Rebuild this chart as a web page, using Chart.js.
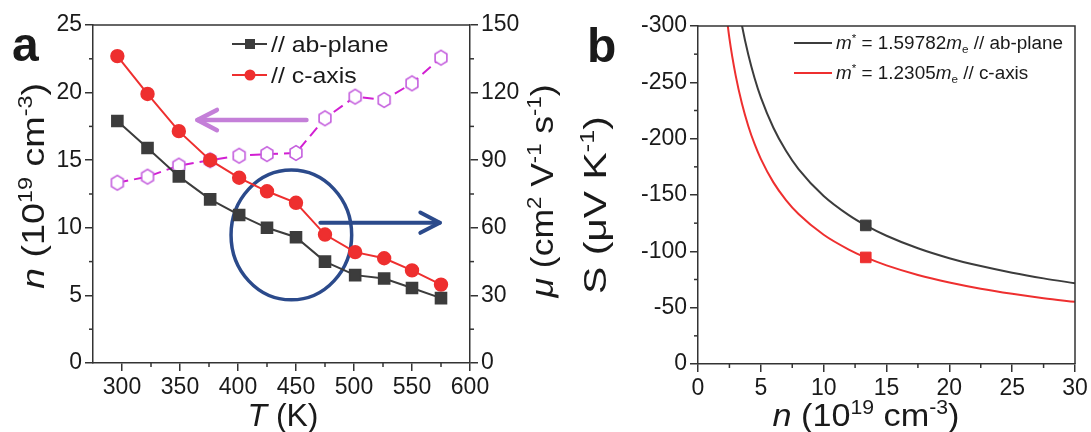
<!DOCTYPE html>
<html><head><meta charset="utf-8">
<script src="https://cdn.jsdelivr.net/npm/chart.js@4.4.1/dist/chart.umd.min.js"></script>
<style>
html,body{margin:0;padding:0;background:#fff;}
#wrap{position:relative;width:1091px;height:432px;overflow:hidden;background:#fff;}
canvas{position:absolute;top:0;}
</style></head><body>
<div id="wrap">
<canvas id="ca" width="575" height="432" style="left:0"></canvas>
<canvas id="cb" width="516" height="432" style="left:575px"></canvas>
</div>
<script>
// ---------- Panel a data ----------
const temperatures = [296, 322, 349, 376, 401, 425, 450, 475, 501, 526, 550, 575];
const nAbPlane = [17.9, 15.9, 13.8, 12.1, 10.95, 10.0, 9.3, 7.5, 6.5, 6.25, 5.55, 4.8];
const nCAxis = [22.7, 19.9, 17.15, 15.0, 13.7, 12.7, 11.85, 9.5, 8.2, 7.75, 6.85, 5.8];
const mobility = [80.0, 82.7, 87.6, 90.0, 92.0, 92.7, 93.2, 108.6, 118.2, 116.7, 124.1, 135.5];
const tTicks = [300, 350, 400, 450, 500, 550, 600];
const tMinor = [325, 375, 425, 475, 525, 575];
const nTicks = [0, 5, 10, 15, 20, 25];
const nMinor = [2.5, 7.5, 12.5, 17.5, 22.5];
const muTicks = [0, 30, 60, 90, 120, 150];
const muMinor = [15, 45, 75, 105, 135];

// ---------- Panel b data ----------
const nGridAb = [3, 3.5, 4, 4.5, 5, 6, 7, 8, 10, 12, 13.35, 15, 17.5, 20, 22.5, 25, 27.5, 30];
const sAbPlane = [-332.8, -300.3, -274.7, -253.9, -236.7, -209.7, -189.2, -173.0, -149.1, -132.1, -123.0, -113.8, -102.7, -93.9, -86.9, -81.0, -76.0, -71.7];
const nGridC = [2, 2.5, 3, 3.5, 4, 4.5, 5, 6, 7, 8, 10, 12, 13.35, 15, 17.5, 20, 22.5, 25, 27.5, 30];
const sCAxis = [-335.4, -289.0, -255.9, -230.9, -211.3, -195.3, -182.1, -161.2, -145.5, -133.1, -114.7, -101.6, -94.6, -87.5, -79.0, -72.3, -66.8, -62.3, -58.4, -55.2];
const measuredN = [13.35];
const measuredSAb = [-123];
const measuredSC = [-94.6];
const nbTicks = [0, 5, 10, 15, 20, 25, 30];
const nbMinor = [2.5, 7.5, 12.5, 17.5, 22.5, 27.5];
const sTicks = [-300, -250, -200, -150, -100, -50, 0];
const sMinor = [-275, -225, -175, -125, -75, -25];

// ---------- styles ----------
const FAM = '"Liberation Sans", Arial, sans-serif';
const AX = '#333';
const TXT = '#1a1a1a';
const BLACK = '#3c3c3c';
const RED = '#ee2f2f';
const MAG = '#d21fd2';
const HEX = '#c560de';
const BLUE = '#2b4a8b';
const PURPLE = '#c47fd8';
const tickFont = {family: FAM, size: 23};

function hexCanvas(size, stroke, lw) {
  const c = document.createElement('canvas');
  c.width = size; c.height = size;
  const g = c.getContext('2d');
  const r = size / 2 - lw;
  g.beginPath();
  for (let i = 0; i < 6; i++) {
    const a = Math.PI / 2 + i * Math.PI / 3;
    const px = size / 2 + r * Math.cos(a) * 0.92, py = size / 2 + r * Math.sin(a);
    if (i) g.lineTo(px, py); else g.moveTo(px, py);
  }
  g.closePath();
  g.fillStyle = '#fff'; g.fill();
  g.strokeStyle = stroke; g.lineWidth = lw; g.stroke();
  return c;
}
const hexImg = hexCanvas(18, HEX, 1.6);

function fontFor(p, size) {
  const s = (p.sup || p.sub) ? size * 0.62 : size;
  return (p.it ? 'italic ' : '') + (p.b ? 'bold ' : '') + s + 'px ' + FAM;
}
function richWidth(ctx, parts, size) {
  let w = 0;
  for (const p of parts) { ctx.font = fontFor(p, size); w += ctx.measureText(p.t).width; }
  return w;
}
function drawRich(ctx, parts, o) {
  ctx.save();
  ctx.translate(o.x, o.y);
  if (o.rot) ctx.rotate(o.rot);
  const w = richWidth(ctx, parts, o.size);
  const sx = o.target ? o.target / w : (o.sx || 1);
  ctx.scale(sx, 1);
  let x = o.align === 'left' ? 0 : -w / 2;
  ctx.textBaseline = 'alphabetic';
  ctx.fillStyle = o.color || TXT;
  for (const p of parts) {
    ctx.font = fontFor(p, o.size);
    let dy = 0;
    if (p.sup) dy = -0.38 * o.size;
    if (p.sub) dy = 0.2 * o.size;
    ctx.fillText(p.t, x, dy);
    x += ctx.measureText(p.t).width;
  }
  ctx.restore();
}
function arrow(ctx, x1, y1, x2, y2, color, lw, head) {
  ctx.save();
  ctx.strokeStyle = color; ctx.lineWidth = lw; ctx.lineCap = 'round'; ctx.lineJoin = 'round';
  ctx.beginPath(); ctx.moveTo(x1, y1); ctx.lineTo(x2, y2); ctx.stroke();
  const a = Math.atan2(y2 - y1, x2 - x1);
  ctx.beginPath();
  ctx.moveTo(x2 - head * Math.cos(a - 0.48), y2 - head * Math.sin(a - 0.48));
  ctx.lineTo(x2, y2);
  ctx.lineTo(x2 - head * Math.cos(a + 0.48), y2 - head * Math.sin(a + 0.48));
  ctx.stroke();
  ctx.restore();
}
function minorTicks(chart, list) {
  const ctx = chart.ctx;
  ctx.save(); ctx.strokeStyle = AX; ctx.lineWidth = 1.5;
  for (const m of list) {
    const s = chart.scales[m.id];
    for (const v of m.values) {
      const p = s.getPixelForValue(v);
      ctx.beginPath();
      if (m.side === 'bottom') { ctx.moveTo(p, s.top); ctx.lineTo(p, s.top + 4); }
      else if (m.side === 'left') { ctx.moveTo(s.right, p); ctx.lineTo(s.right - 4, p); }
      else { ctx.moveTo(s.left, p); ctx.lineTo(s.left + 4, p); }
      ctx.stroke();
    }
  }
  ctx.restore();
}
function axisCfg(ticksArr, extra) {
  return Object.assign({
    type: 'linear',
    afterBuildTicks: s => { s.ticks = ticksArr.map(v => ({value: v})); },
    ticks: {font: tickFont, color: TXT, padding: 3, maxRotation: 0, autoSkip: false},
    grid: {drawOnChartArea: false, tickLength: 8, color: AX, lineWidth: 1.5},
    border: {color: AX, width: 1.5}
  }, extra);
}

// ---------- Panel a ----------
const annotA = {
  purple: {t1: 459, t2: 365, n: 17.97},
  blue: {t1: 471, t2: 574, n: 10.38},
  ellipse: {t: 446, n: 9.47, rt: 52, rn: 4.8}
};
const panelAPlugin = {
  id: 'panelA',
  beforeDatasetsDraw(chart) {
    const ctx = chart.ctx, x = chart.scales.x, y = chart.scales.y;
    const e = annotA.ellipse;
    const cx = x.getPixelForValue(e.t), cy = y.getPixelForValue(e.n);
    const rx = Math.abs(x.getPixelForValue(e.t + e.rt) - cx), ry = Math.abs(y.getPixelForValue(e.n + e.rn) - cy);
    ctx.save();
    ctx.strokeStyle = BLUE; ctx.lineWidth = 3.5;
    ctx.beginPath(); ctx.ellipse(cx, cy, rx, ry, 0, 0, Math.PI * 2); ctx.stroke();
    ctx.restore();
    const p = annotA.purple, b = annotA.blue;
    arrow(ctx, x.getPixelForValue(p.t1), y.getPixelForValue(p.n), x.getPixelForValue(p.t2), y.getPixelForValue(p.n), PURPLE, 4.5, 22);
    arrow(ctx, x.getPixelForValue(b.t1), y.getPixelForValue(b.n), x.getPixelForValue(b.t2), y.getPixelForValue(b.n), BLUE, 4, 22);
  },
  afterDraw(chart) {
    const ctx = chart.ctx, ca = chart.chartArea;
    ctx.save();
    ctx.strokeStyle = AX; ctx.lineWidth = 1.5;
    ctx.beginPath(); ctx.moveTo(ca.left, ca.top); ctx.lineTo(ca.right, ca.top); ctx.stroke();
    ctx.restore();
    minorTicks(chart, [
      {id: 'x', side: 'bottom', values: tMinor},
      {id: 'y', side: 'left', values: nMinor},
      {id: 'y1', side: 'right', values: muMinor}
    ]);
    // legend
    const ds = chart.data.datasets;
    const rows = [{d: ds[0], y: 44, style: 'rect'}, {d: ds[1], y: 75, style: 'circle'}];
    for (const r of rows) {
      ctx.save();
      ctx.strokeStyle = r.d.borderColor; ctx.lineWidth = 2;
      ctx.beginPath(); ctx.moveTo(232, r.y); ctx.lineTo(267, r.y); ctx.stroke();
      ctx.fillStyle = r.d.pointBackgroundColor;
      if (r.style === 'rect') ctx.fillRect(245, r.y - 5, 10, 10);
      else { ctx.beginPath(); ctx.arc(250, r.y, 5.5, 0, Math.PI * 2); ctx.fill(); }
      ctx.restore();
      drawRich(ctx, [{t: r.d.label}], {x: 271, y: r.y + 8, size: 22, align: 'left', sx: 1.13});
    }
    // titles
    drawRich(ctx, [{t: 'n', it: true}, {t: ' (10'}, {t: '19', sup: true}, {t: ' cm'}, {t: '-3', sup: true}, {t: ')'}],
      {x: 44, y: 186, rot: -Math.PI / 2, size: 32, target: 206});
    drawRich(ctx, [{t: 'μ', it: true}, {t: ' (cm'}, {t: '2', sup: true}, {t: ' V'}, {t: '-1', sup: true}, {t: ' s'}, {t: '-1', sup: true}, {t: ')'}],
      {x: 553, y: 191, rot: -Math.PI / 2, size: 32, target: 213});
    drawRich(ctx, [{t: 'T', it: true}, {t: ' (K)'}], {x: 283, y: 426, size: 32, target: 71});
    drawRich(ctx, [{t: 'a', b: true}], {x: 12, y: 61, size: 48, align: 'left'});
  }
};

new Chart(document.getElementById('ca'), {
  type: 'line',
  data: {
    datasets: [
      {label: '// ab-plane', data: temperatures.map((t, i) => ({x: t, y: nAbPlane[i]})), yAxisID: 'y',
       borderColor: BLACK, backgroundColor: BLACK, pointBackgroundColor: BLACK, pointBorderColor: BLACK,
       borderWidth: 2, pointStyle: 'rect', pointRadius: 7.5, tension: 0},
      {label: '// c-axis', data: temperatures.map((t, i) => ({x: t, y: nCAxis[i]})), yAxisID: 'y',
       borderColor: RED, backgroundColor: RED, pointBackgroundColor: RED, pointBorderColor: RED,
       borderWidth: 2, pointStyle: 'circle', pointRadius: 6.2, tension: 0},
      {label: 'mobility', data: temperatures.map((t, i) => ({x: t, y: mobility[i]})), yAxisID: 'y1',
       borderColor: MAG, borderWidth: 2, borderDash: [11, 6], pointStyle: hexImg, pointRadius: 9, tension: 0}
    ]
  },
  options: {
    responsive: false, animation: false, devicePixelRatio: 1,
    layout: {padding: {top: 25, left: 0, right: 0, bottom: 0}},
    plugins: {legend: {display: false}, tooltip: {enabled: false}},
    scales: {
      x: axisCfg(tTicks, {min: 275, max: 600, afterFit: s => { s.height = 69; }}),
      y: axisCfg(nTicks, {position: 'left', min: 0, max: 25, afterFit: s => { s.width = 93; }}),
      y1: axisCfg(muTicks, {position: 'right', min: 0, max: 150, afterFit: s => { s.width = 105; }})
    }
  },
  plugins: [panelAPlugin]
});

// ---------- Panel b ----------
const panelBPlugin = {
  id: 'panelB',
  afterDraw(chart) {
    const ctx = chart.ctx, ca = chart.chartArea;
    ctx.save();
    ctx.strokeStyle = AX; ctx.lineWidth = 1.5;
    ctx.beginPath(); ctx.moveTo(ca.left, ca.top); ctx.lineTo(ca.right, ca.top); ctx.lineTo(ca.right, ca.bottom); ctx.stroke();
    ctx.restore();
    minorTicks(chart, [
      {id: 'x', side: 'bottom', values: nbMinor},
      {id: 'y', side: 'left', values: sMinor}
    ]);
    const rows = [
      {c: BLACK, y: 43, parts: [{t: 'm', it: true}, {t: '*', sup: true}, {t: ' = 1.59782'}, {t: 'm', it: true}, {t: 'e', sub: true}, {t: ' // ab-plane'}]},
      {c: RED, y: 73, parts: [{t: 'm', it: true}, {t: '*', sup: true}, {t: ' = 1.2305'}, {t: 'm', it: true}, {t: 'e', sub: true}, {t: ' // c-axis'}]}
    ];
    for (const r of rows) {
      ctx.save(); ctx.strokeStyle = r.c; ctx.lineWidth = 2;
      ctx.beginPath(); ctx.moveTo(219, r.y); ctx.lineTo(257, r.y); ctx.stroke(); ctx.restore();
      drawRich(ctx, r.parts, {x: 261, y: r.y + 6, size: 18, align: 'left', sx: 1.05});
    }
    drawRich(ctx, [{t: 'S'}, {t: ' (μV K'}, {t: '-1', sup: true}, {t: ')'}],
      {x: 31, y: 205, rot: -Math.PI / 2, size: 32, target: 178});
    drawRich(ctx, [{t: 'n', it: true}, {t: ' (10'}, {t: '19', sup: true}, {t: ' cm'}, {t: '-3', sup: true}, {t: ')'}],
      {x: 291, y: 426, size: 32, target: 187});
    drawRich(ctx, [{t: 'b', b: true}], {x: 12, y: 62, size: 48, align: 'left'});
  }
};

new Chart(document.getElementById('cb'), {
  type: 'line',
  data: {
    datasets: [
      {label: 'measured ab', data: measuredN.map((n, i) => ({x: n, y: measuredSAb[i]})), showLine: false,
       pointStyle: 'rect', pointRadius: 7.5, pointBackgroundColor: BLACK, pointBorderColor: BLACK},
      {label: 'measured c', data: measuredN.map((n, i) => ({x: n, y: measuredSC[i]})), showLine: false,
       pointStyle: 'rect', pointRadius: 7.5, pointBackgroundColor: RED, pointBorderColor: RED},
      {label: 'm* = 1.59782 me // ab-plane', data: nGridAb.map((n, i) => ({x: n, y: sAbPlane[i]})),
       borderColor: BLACK, borderWidth: 2, pointRadius: 0, cubicInterpolationMode: 'monotone'},
      {label: 'm* = 1.2305 me // c-axis', data: nGridC.map((n, i) => ({x: n, y: sCAxis[i]})),
       borderColor: RED, borderWidth: 2, pointRadius: 0, cubicInterpolationMode: 'monotone'}
    ]
  },
  options: {
    responsive: false, animation: false, devicePixelRatio: 1,
    layout: {padding: {top: 26, left: 0, right: 16, bottom: 0}},
    plugins: {legend: {display: false}, tooltip: {enabled: false}},
    scales: {
      x: axisCfg(nbTicks, {min: 0, max: 30, afterFit: s => { s.height = 68; }}),
      y: axisCfg(sTicks, {position: 'left', min: -300, max: 0, reverse: true, afterFit: s => { s.width = 123; }})
    }
  },
  plugins: [panelBPlugin]
});
</script>
</body></html>
